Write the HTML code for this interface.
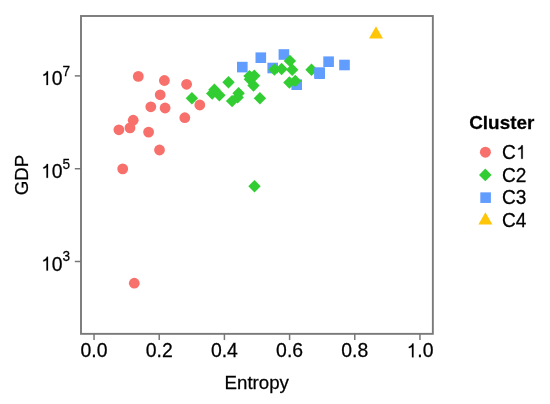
<!DOCTYPE html>
<html><head><meta charset="utf-8"><style>
html,body{margin:0;padding:0;background:#fff;}
svg{display:block;will-change:transform;}
text{font-family:"Liberation Sans",sans-serif;fill:#000;stroke:#000;stroke-width:0.25px;}
</style></head><body>
<svg width="550" height="404" viewBox="0 0 550 404">
<rect width="550" height="404" fill="#fff"/>
<rect x="255.50" y="52.40" width="10.60" height="10.60" fill="#619CFF"/><rect x="278.60" y="49.20" width="10.60" height="10.60" fill="#619CFF"/><rect x="267.40" y="62.70" width="10.60" height="10.60" fill="#619CFF"/><rect x="291.40" y="79.40" width="10.60" height="10.60" fill="#619CFF"/><circle cx="138.3" cy="76.4" r="5.4" fill="#F7706B"/><circle cx="164.4" cy="80.5" r="5.4" fill="#F7706B"/><circle cx="186.6" cy="84.3" r="5.4" fill="#F7706B"/><circle cx="160.2" cy="94.8" r="5.4" fill="#F7706B"/><circle cx="150.8" cy="106.8" r="5.4" fill="#F7706B"/><circle cx="165.1" cy="108.0" r="5.4" fill="#F7706B"/><circle cx="184.8" cy="117.7" r="5.4" fill="#F7706B"/><circle cx="133.2" cy="120.2" r="5.4" fill="#F7706B"/><circle cx="130.0" cy="127.9" r="5.4" fill="#F7706B"/><circle cx="118.9" cy="129.8" r="5.4" fill="#F7706B"/><circle cx="148.6" cy="132.1" r="5.4" fill="#F7706B"/><circle cx="159.5" cy="150.0" r="5.4" fill="#F7706B"/><circle cx="122.7" cy="168.9" r="5.4" fill="#F7706B"/><circle cx="134.3" cy="283.2" r="5.4" fill="#F7706B"/><path d="M191.9 92.00L198.10 98.2L191.9 104.40L185.70 98.2Z" fill="#32CD32"/><path d="M214.4 83.60L220.60 89.8L214.4 96.00L208.20 89.8Z" fill="#32CD32"/><path d="M212.2 87.40L218.40 93.6L212.2 99.80L206.00 93.6Z" fill="#32CD32"/><path d="M219.4 89.00L225.60 95.2L219.4 101.40L213.20 95.2Z" fill="#32CD32"/><path d="M228.5 76.10L234.70 82.3L228.5 88.50L222.30 82.3Z" fill="#32CD32"/><path d="M238.6 87.10L244.80 93.3L238.6 99.50L232.40 93.3Z" fill="#32CD32"/><path d="M237.6 91.20L243.80 97.4L237.6 103.60L231.40 97.4Z" fill="#32CD32"/><path d="M232.1 94.90L238.30 101.1L232.1 107.30L225.90 101.1Z" fill="#32CD32"/><path d="M249.5 69.90L255.70 76.1L249.5 82.30L243.30 76.1Z" fill="#32CD32"/><path d="M254.3 69.60L260.50 75.8L254.3 82.00L248.10 75.8Z" fill="#32CD32"/><path d="M249.9 73.10L256.10 79.3L249.9 85.50L243.70 79.3Z" fill="#32CD32"/><path d="M253.5 79.30L259.70 85.5L253.5 91.70L247.30 85.5Z" fill="#32CD32"/><path d="M259.9 92.10L266.10 98.3L259.9 104.50L253.70 98.3Z" fill="#32CD32"/><path d="M274.4 63.40L280.60 69.6L274.4 75.80L268.20 69.6Z" fill="#32CD32"/><path d="M281.6 62.80L287.80 69.0L281.6 75.20L275.40 69.0Z" fill="#32CD32"/><path d="M289.9 54.70L296.10 60.9L289.9 67.10L283.70 60.9Z" fill="#32CD32"/><path d="M292.2 63.60L298.40 69.8L292.2 76.00L286.00 69.8Z" fill="#32CD32"/><path d="M289.4 76.30L295.60 82.5L289.4 88.70L283.20 82.5Z" fill="#32CD32"/><path d="M295.3 74.70L301.50 80.9L295.3 87.10L289.10 80.9Z" fill="#32CD32"/><path d="M311.5 63.50L317.70 69.7L311.5 75.90L305.30 69.7Z" fill="#32CD32"/><path d="M254.5 180.10L260.70 186.3L254.5 192.50L248.30 186.3Z" fill="#32CD32"/><circle cx="199.8" cy="105.0" r="5.4" fill="#F7706B"/><rect x="237.00" y="61.80" width="10.60" height="10.60" fill="#619CFF"/><rect x="314.30" y="67.30" width="10.60" height="10.60" fill="#619CFF"/><rect x="314.30" y="68.40" width="10.60" height="10.60" fill="#619CFF"/><rect x="323.30" y="56.40" width="10.60" height="10.60" fill="#619CFF"/><rect x="339.20" y="59.70" width="10.60" height="10.60" fill="#619CFF"/><path d="M376 26.32L383.00 38.44L369.00 38.44Z" fill="#FFC508"/>
<rect x="81.0" y="16.0" width="351.85" height="317.85" fill="none" stroke="#7a7a7a" stroke-width="1.9"/><line x1="94.05" y1="333.85" x2="94.05" y2="340.05" stroke="#777777" stroke-width="1.5"/><line x1="159.23" y1="333.85" x2="159.23" y2="340.05" stroke="#777777" stroke-width="1.5"/><line x1="224.41" y1="333.85" x2="224.41" y2="340.05" stroke="#777777" stroke-width="1.5"/><line x1="289.59" y1="333.85" x2="289.59" y2="340.05" stroke="#777777" stroke-width="1.5"/><line x1="354.77" y1="333.85" x2="354.77" y2="340.05" stroke="#777777" stroke-width="1.5"/><line x1="419.95" y1="333.85" x2="419.95" y2="340.05" stroke="#777777" stroke-width="1.5"/><line x1="74.80" y1="75.9" x2="81.0" y2="75.9" stroke="#777777" stroke-width="1.5"/><line x1="74.80" y1="168.72" x2="81.0" y2="168.72" stroke="#777777" stroke-width="1.5"/><line x1="74.80" y1="261.5" x2="81.0" y2="261.5" stroke="#777777" stroke-width="1.5"/>
<circle cx="485.4" cy="152.15" r="5.5" fill="#F7706B"/><path d="M485.3 168.60L491.60 174.9L485.3 181.20L479.00 174.9Z" fill="#32CD32"/><rect x="480.30" y="192.35" width="10.60" height="10.60" fill="#619CFF"/><path d="M485.4 212.32L492.40 224.44L478.40 224.44Z" fill="#FFC508"/>
<text transform="translate(94.05 357.3) scale(1 1.015)" font-size="19.4" text-anchor="middle">0.0</text><text transform="translate(159.23 357.3) scale(1 1.015)" font-size="19.4" text-anchor="middle">0.2</text><text transform="translate(224.41 357.3) scale(1 1.015)" font-size="19.4" text-anchor="middle">0.4</text><text transform="translate(289.59 357.3) scale(1 1.015)" font-size="19.4" text-anchor="middle">0.6</text><text transform="translate(354.77 357.3) scale(1 1.015)" font-size="19.4" text-anchor="middle">0.8</text><path transform="translate(406.47 357.30) scale(19.4 -19.691)" d="M0.362 0L0.362 0.703L0.3 0.703C0.28 0.62 0.21 0.56 0.122 0.537L0.122 0.468C0.19 0.478 0.25 0.5 0.284 0.535L0.284 0Z" fill="#000" stroke="#000" stroke-width="0.0129"/><text transform="translate(417.26 357.3) scale(1 1.015)" font-size="19.4" text-anchor="start">.0</text><path transform="translate(40.98 85.00) scale(19.4 -19.691)" d="M0.362 0L0.362 0.703L0.3 0.703C0.28 0.62 0.21 0.56 0.122 0.537L0.122 0.468C0.19 0.478 0.25 0.5 0.284 0.535L0.284 0Z" fill="#000" stroke="#000" stroke-width="0.0129"/><text transform="translate(51.77 85.0) scale(1 1.015)" font-size="19.4" text-anchor="start">0</text><text transform="translate(62.56 75.75) scale(1 1.015)" font-size="13.6" text-anchor="start">7</text><path transform="translate(40.98 177.82) scale(19.4 -19.691)" d="M0.362 0L0.362 0.703L0.3 0.703C0.28 0.62 0.21 0.56 0.122 0.537L0.122 0.468C0.19 0.478 0.25 0.5 0.284 0.535L0.284 0Z" fill="#000" stroke="#000" stroke-width="0.0129"/><text transform="translate(51.77 177.82) scale(1 1.015)" font-size="19.4" text-anchor="start">0</text><text transform="translate(62.56 168.57) scale(1 1.015)" font-size="13.6" text-anchor="start">5</text><path transform="translate(40.98 270.60) scale(19.4 -19.691)" d="M0.362 0L0.362 0.703L0.3 0.703C0.28 0.62 0.21 0.56 0.122 0.537L0.122 0.468C0.19 0.478 0.25 0.5 0.284 0.535L0.284 0Z" fill="#000" stroke="#000" stroke-width="0.0129"/><text transform="translate(51.77 270.6) scale(1 1.015)" font-size="19.4" text-anchor="start">0</text><text transform="translate(62.56 261.35) scale(1 1.015)" font-size="13.6" text-anchor="start">3</text><text transform="translate(224.53 388.7) scale(1 1.02)" font-size="18.7" text-anchor="start">Entropy</text><text transform="translate(28.1 175.0) rotate(-90)" font-size="18.7" text-anchor="middle">GDP</text><text transform="translate(469.23 128.7) scale(1 1.02)" font-size="18.9" text-anchor="start" font-weight="bold">Cluster</text><text transform="translate(502.03 158.75) scale(1 1.05)" font-size="19.1" text-anchor="start">C</text><path transform="translate(515.82 158.75) scale(19.1 -19.100)" d="M0.362 0L0.362 0.703L0.3 0.703C0.28 0.62 0.21 0.56 0.122 0.537L0.122 0.468C0.19 0.478 0.25 0.5 0.284 0.535L0.284 0Z" fill="#000" stroke="#000" stroke-width="0.0131"/><text transform="translate(502.03 181.5) scale(1 1.05)" font-size="19.1" text-anchor="start">C2</text><text transform="translate(502.03 204.25) scale(1 1.05)" font-size="19.1" text-anchor="start">C3</text><text transform="translate(502.03 227.0) scale(1 1.05)" font-size="19.1" text-anchor="start">C4</text>
</svg>
</body></html>
